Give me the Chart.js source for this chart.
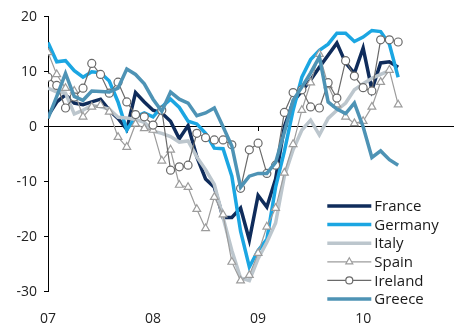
<!DOCTYPE html>
<html>
<head>
<meta charset="utf-8">
<script src="https://cdn.jsdelivr.net/npm/chart.js@4.4.1/dist/chart.umd.min.js"></script>
<style>
  html, body { margin: 0; padding: 0; background: #ffffff; }
  canvas { display: block; }
</style>
</head>
<body>
<canvas id="chart" width="459" height="329"></canvas>
<script>
// Year labels on the time axis and the month index where each year starts
const yearLabels = ["07", "08", "09", "10"];
const yearStartIndex = [0, 12, 24, 36];
const yTicks = [-30, -20, -10, 0, 10, 20];

// Monthly readings, Jan 2007 onwards
const france = [2.0, 4.5, 5.8, 4.3, 4.0, 4.5, 5.0, 3.0, 1.5, -0.5,
  6.2, 4.5, 3.0, 2.5, 1.0, -2.2, 0.2, -5.5, -9.5, -11.0,
  -16.5, -16.5, -14.8, -20.6, -12.5, -14.6, -9.5, 0.0, 4.5, 6.5,
  8.5, 10.8, 13.0, 15.2, 11.6, 9.7, 14.3, 6.7, 11.6, 11.8, 10.8];
const germany = [15.3, 11.8, 12.0, 10.2, 9.0, 10.0, 9.8, 8.3, 4.5, -0.6,
  1.8, 2.5, 1.8, 3.6, 5.0, 3.5, 1.0, 0.5, -1.2, -3.9,
  -4.0, -9.0, -19.0, -25.5, -22.5, -20.5, -11.0, -4.5, 3.0, 9.0,
  12.2, 13.9, 15.0, 17.0, 17.0, 15.5, 16.3, 17.5, 17.3, 15.0, 9.0];
const italy = [7.0, 6.3, 6.1, 2.3, 3.0, 3.9, 3.6, 3.2, 1.7, 1.6,
  1.3, 0.8, -0.8, -1.2, -1.8, -2.8, -2.6, -5.5, -7.8, -10.5,
  -16.5, -22.5, -27.5, -28.0, -24.0, -21.0, -17.5, -9.0, -4.2, -0.6,
  1.2, -1.5, 1.5, 3.0, 4.3, 6.7, 7.8, 8.8, 9.5, 10.2];
const spain = [13.5, 9.5, 7.0, 6.5, 1.8, 3.6, 3.9, 2.7, -1.9, -3.7,
  0.5, -0.3, -0.6, -6.2, -4.2, -10.6, -11.0, -15.0, -18.5, -12.8,
  -16.0, -24.6, -28.0, -27.0, -23.0, -18.2, -14.8, -8.4, -3.2, 3.0,
  8.0, 13.2, 7.5, 4.0, 1.8, 0.6, 1.0, 3.6, 8.1, 10.3, 4.0];
const ireland = [9.0, 7.5, 3.4, 5.4, 7.0, 11.5, 9.5, 6.1, 8.1, 4.5,
  2.2, 1.8, 0.3, 3.0, -7.9, -7.3, -7.0, -1.2, -2.0, -2.4,
  -2.4, -3.3, -11.2, -4.2, -3.0, -8.5, -7.0, 2.6, 6.2, 6.7,
  3.6, 3.4, 8.0, 5.2, 12.0, 9.2, 7.1, 6.5, 15.8, 15.8, 15.4];
const greece = [1.5, 5.5, 9.7, 5.5, 4.8, 6.5, 6.4, 6.3, 7.0, 10.5,
  9.5, 7.8, 5.0, 2.8, 6.3, 5.0, 4.3, 2.0, 2.5, 3.4,
  0.0, -3.5, -11.0, -9.0, -8.5, -8.5, -6.5, -1.0, 4.8, 7.2,
  9.8, 12.7, 4.5, 3.2, 2.4, 4.3, 0.0, -5.6, -4.4, -6.0, -7.0];

const xMax = 46.3; // axis runs a little past the last reading

function toPoints(values) {
  return values.map((v, i) => ({ x: i, y: v }));
}

function thickLine(label, values, color, order) {
  return {
    label, data: toPoints(values), order,
    borderColor: color, backgroundColor: color,
    borderWidth: 3.5, pointRadius: 0, tension: 0,
    xAxisID: 'x', yAxisID: 'y'
  };
}

function markedLine(label, values, color, style, radius, order) {
  return {
    label, data: toPoints(values), order,
    borderColor: color, backgroundColor: color,
    borderWidth: 1.2, tension: 0,
    pointStyle: style, pointRadius: radius,
    pointBorderColor: color, pointBackgroundColor: '#ffffff',
    pointBorderWidth: 1.2,
    xAxisID: 'x', yAxisID: 'y'
  };
}

// Legend drawn as line samples (with markers where the series has them)
const lineLegend = {
  id: 'lineLegend',
  afterDatasetsDraw(chart) {
    const ctx = chart.ctx;
    const area = chart.chartArea;
    const x0 = area.right - 126;
    const x1 = x0 + 44;
    const y0 = area.bottom - 85.7;
    const step = 18.6;
    ctx.save();
    ctx.font = '15px "Open Sans"';
    ctx.textBaseline = 'middle';
    ctx.textAlign = 'left';
    chart.data.datasets.forEach((ds, k) => {
      const y = y0 + k * step;
      ctx.strokeStyle = ds.borderColor;
      ctx.lineWidth = ds.borderWidth;
      ctx.beginPath();
      ctx.moveTo(x0, y);
      ctx.lineTo(x1, y);
      ctx.stroke();
      if (ds.pointRadius > 0) {
        ctx.fillStyle = '#ffffff';
        ctx.strokeStyle = ds.pointBorderColor;
        ctx.lineWidth = ds.pointBorderWidth;
        Chart.helpers.drawPoint(ctx, {
          pointStyle: ds.pointStyle, radius: ds.pointRadius - 0.5,
          borderWidth: ds.pointBorderWidth, rotation: 0
        }, (x0 + x1) / 2, y);
      }
      ctx.fillStyle = '#1a1a1a';
      ctx.fillText(ds.label, x1 + 3, y + 1);
    });
    ctx.restore();
  }
};

const tickFont = { family: 'Open Sans', size: 14 };

new Chart(document.getElementById('chart'), {
  type: 'line',
  data: {
    datasets: [
      thickLine('France', france, '#0f2c5b', 5),
      thickLine('Germany', germany, '#1ba6e2', 4),
      thickLine('Italy', italy, '#bcc6cd', 3),
      markedLine('Spain', spain, '#9c9c9c', 'triangle', 4.5, 2),
      markedLine('Ireland', ireland, '#6a6a6a', 'circle', 4, 1),
      thickLine('Greece', greece, '#4e93b5', 0)
    ]
  },
  options: {
    responsive: false,
    devicePixelRatio: 1,
    animation: false,
    layout: { padding: { top: 16.7, right: 0, bottom: 0, left: 0 } },
    plugins: { legend: { display: false }, tooltip: { enabled: false } },
    scales: {
      x: {
        type: 'linear', axis: 'x', min: 0, max: xMax, position: 'bottom',
        border: { display: false },
        grid: { display: false, drawTicks: false },
        afterBuildTicks: s => { s.ticks = yearStartIndex.map(v => ({ value: v })); },
        ticks: {
          autoSkip: false, maxRotation: 0, padding: 19,
          color: '#222', font: tickFont,
          callback: v => { const k = yearStartIndex.indexOf(v); return k >= 0 ? yearLabels[k] : ''; }
        },
        afterFit: s => { s.height = 37.3; }
      },
      zeroLine: {
        type: 'linear', axis: 'x', min: 0, max: xMax, position: { y: 0 },
        border: { display: true, color: '#000', width: 1 },
        grid: { drawOnChartArea: false, drawTicks: true, tickLength: 4, color: '#000' },
        afterBuildTicks: s => { s.ticks = yearStartIndex.slice(1).map(v => ({ value: v })); },
        ticks: { display: false }
      },
      y: {
        axis: 'y', min: -30, max: 20, position: 'left',
        border: { display: true, color: '#000', width: 1 },
        grid: { drawOnChartArea: false, drawTicks: true, tickLength: 4, color: '#000' },
        afterBuildTicks: s => { s.ticks = yTicks.map(v => ({ value: v })); },
        ticks: { padding: 7, color: '#222', font: tickFont },
        afterFit: s => { s.width = 48; }
      }
    }
  },
  plugins: [lineLegend]
});
</script>
</body>
</html>
